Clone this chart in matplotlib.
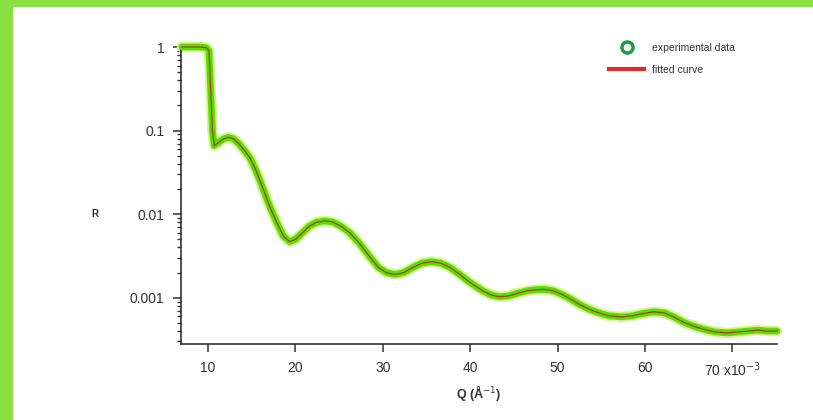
import numpy as np
import matplotlib
matplotlib.use("Agg")
import matplotlib.pyplot as plt
from matplotlib.lines import Line2D
from matplotlib.patches import Rectangle
from matplotlib.ticker import FixedLocator, LogLocator, NullFormatter

plt.rcParams['font.family'] = ['Liberation Sans', 'DejaVu Sans']

# Q in units of 1e-3 A^-1, reflectivity R
q = [7.0, 8.0, 9.0, 9.8, 10.1, 10.3, 10.5, 10.7, 11.2, 11.8, 12.3, 12.9, 13.5, 14.2,
     14.8, 15.5, 16.3, 17.1, 17.9, 18.6, 19.3, 20.0, 20.8, 21.6, 22.4, 23.3, 24.2,
     25.2, 26.2, 27.3, 28.5, 29.5, 30.4, 31.4, 32.4, 33.4, 34.5, 35.6, 36.6, 37.7,
     38.8, 39.7, 40.5, 41.5, 42.4, 43.3, 44.3, 45.4, 46.5, 47.5, 48.5, 49.5, 50.5,
     51.6, 52.6, 53.6, 54.7, 55.8, 57.3, 58.6, 59.8, 61.0, 62.2, 63.3, 64.4, 65.5,
     66.7, 68.0, 69.4, 70.6, 71.8, 72.9, 74.0, 75.1]
r_exp = [1.0, 1.0, 1.0, 0.98, 0.9, 0.3, 0.1, 0.066, 0.072, 0.080, 0.083, 0.080, 0.070,
         0.057, 0.047, 0.033, 0.020, 0.012, 0.0078, 0.0055, 0.0047, 0.0050, 0.0060,
         0.0072, 0.0080, 0.0083, 0.0081, 0.0072, 0.0060, 0.0045, 0.0031, 0.0023,
         0.0020, 0.0019, 0.0020, 0.0023, 0.0026, 0.0027, 0.0026, 0.0023, 0.0019,
         0.0016, 0.0014, 0.0012, 0.00108, 0.00103, 0.00105, 0.00113, 0.00121,
         0.00125, 0.00126, 0.00121, 0.00110, 0.00095, 0.00082, 0.00073, 0.00066,
         0.00061, 0.00059, 0.00061, 0.00065, 0.00068, 0.00066, 0.00059, 0.00051,
         0.00046, 0.00042, 0.00039, 0.00038, 0.00039, 0.00040, 0.00041, 0.00040,
         0.00040]
r_fit = r_exp

xticks = [10, 20, 30, 40, 50, 60, 70]
xtick_labels = ['10', '20', '30', '40', '50', '60', '70 x10$^{-3}$']
yticks = [0.001, 0.01, 0.1, 1]
ytick_labels = ['0.001', '0.01', '0.1', '1']

fig = plt.figure(figsize=(8.13, 4.2), dpi=100)
# green frame on top and left
fig.patches.append(Rectangle((0, 1 - 6 / 420), 1, 6 / 420, transform=fig.transFigure,
                             color='#8ae043', zorder=0))
fig.patches.append(Rectangle((0, 0), 12 / 813, 1, transform=fig.transFigure,
                             color='#8ae043', zorder=0))

ax = fig.add_axes([181 / 813, 1 - 344 / 420, 596 / 813, 297 / 420])

ax.plot(q, r_exp, color='#d4f590', lw=7.5, solid_capstyle='round', clip_on=False, zorder=2)
ax.plot(q, r_exp, color='#5cdc00', lw=4.8, solid_capstyle='round', clip_on=False, zorder=3)
ax.plot(q, r_fit, color='#a8401a', lw=0.9, clip_on=False, zorder=4)

ax.set_yscale('log')
ax.set_xlim(6.9, 75.1)
ax.set_ylim(2.8e-4, 1.0)

for s in ['top', 'right']:
    ax.spines[s].set_visible(False)
for s in ['left', 'bottom']:
    ax.spines[s].set_linewidth(1.1)
    ax.spines[s].set_color('#222222')

ax.xaxis.set_major_locator(FixedLocator(xticks))
ax.set_xticklabels(xtick_labels)
ax.yaxis.set_major_locator(FixedLocator(yticks))
ax.set_yticklabels(ytick_labels)
ax.yaxis.set_minor_locator(LogLocator(base=10, subs=np.arange(2, 10)))
ax.yaxis.set_minor_formatter(NullFormatter())
ax.tick_params(axis='both', which='major', direction='out', length=6, width=1.1,
               labelsize=10, pad=6, colors='#333333')
ax.tick_params(axis='y', which='minor', direction='out', length=3, width=1.0,
               colors='#333333')

ax.set_xlabel('Q (Å$^{-1}$)', fontsize=9, fontweight='bold', color='#333333')
ax.xaxis.set_label_coords(0.50, -0.13)
ax.set_ylabel('R', fontsize=7, rotation=0, fontweight='bold', color='#333333')
ax.yaxis.set_label_coords(-0.144, 0.42)

handles = [Line2D([], [], marker='o', ls='none', mfc='none', mec='#1e9e3c', mew=2.5, ms=8),
           Line2D([], [], color='#e02828', lw=3)]
leg = ax.legend(handles, ['experimental data', 'fitted curve'], loc='upper left',
                bbox_to_anchor=(0.703, 1.045), frameon=False, fontsize=7.5,
                handlelength=3.3, labelspacing=1.15)
for t in leg.get_texts():
    t.set_color('#333333')

fig.savefig('out.png', dpi=100)
